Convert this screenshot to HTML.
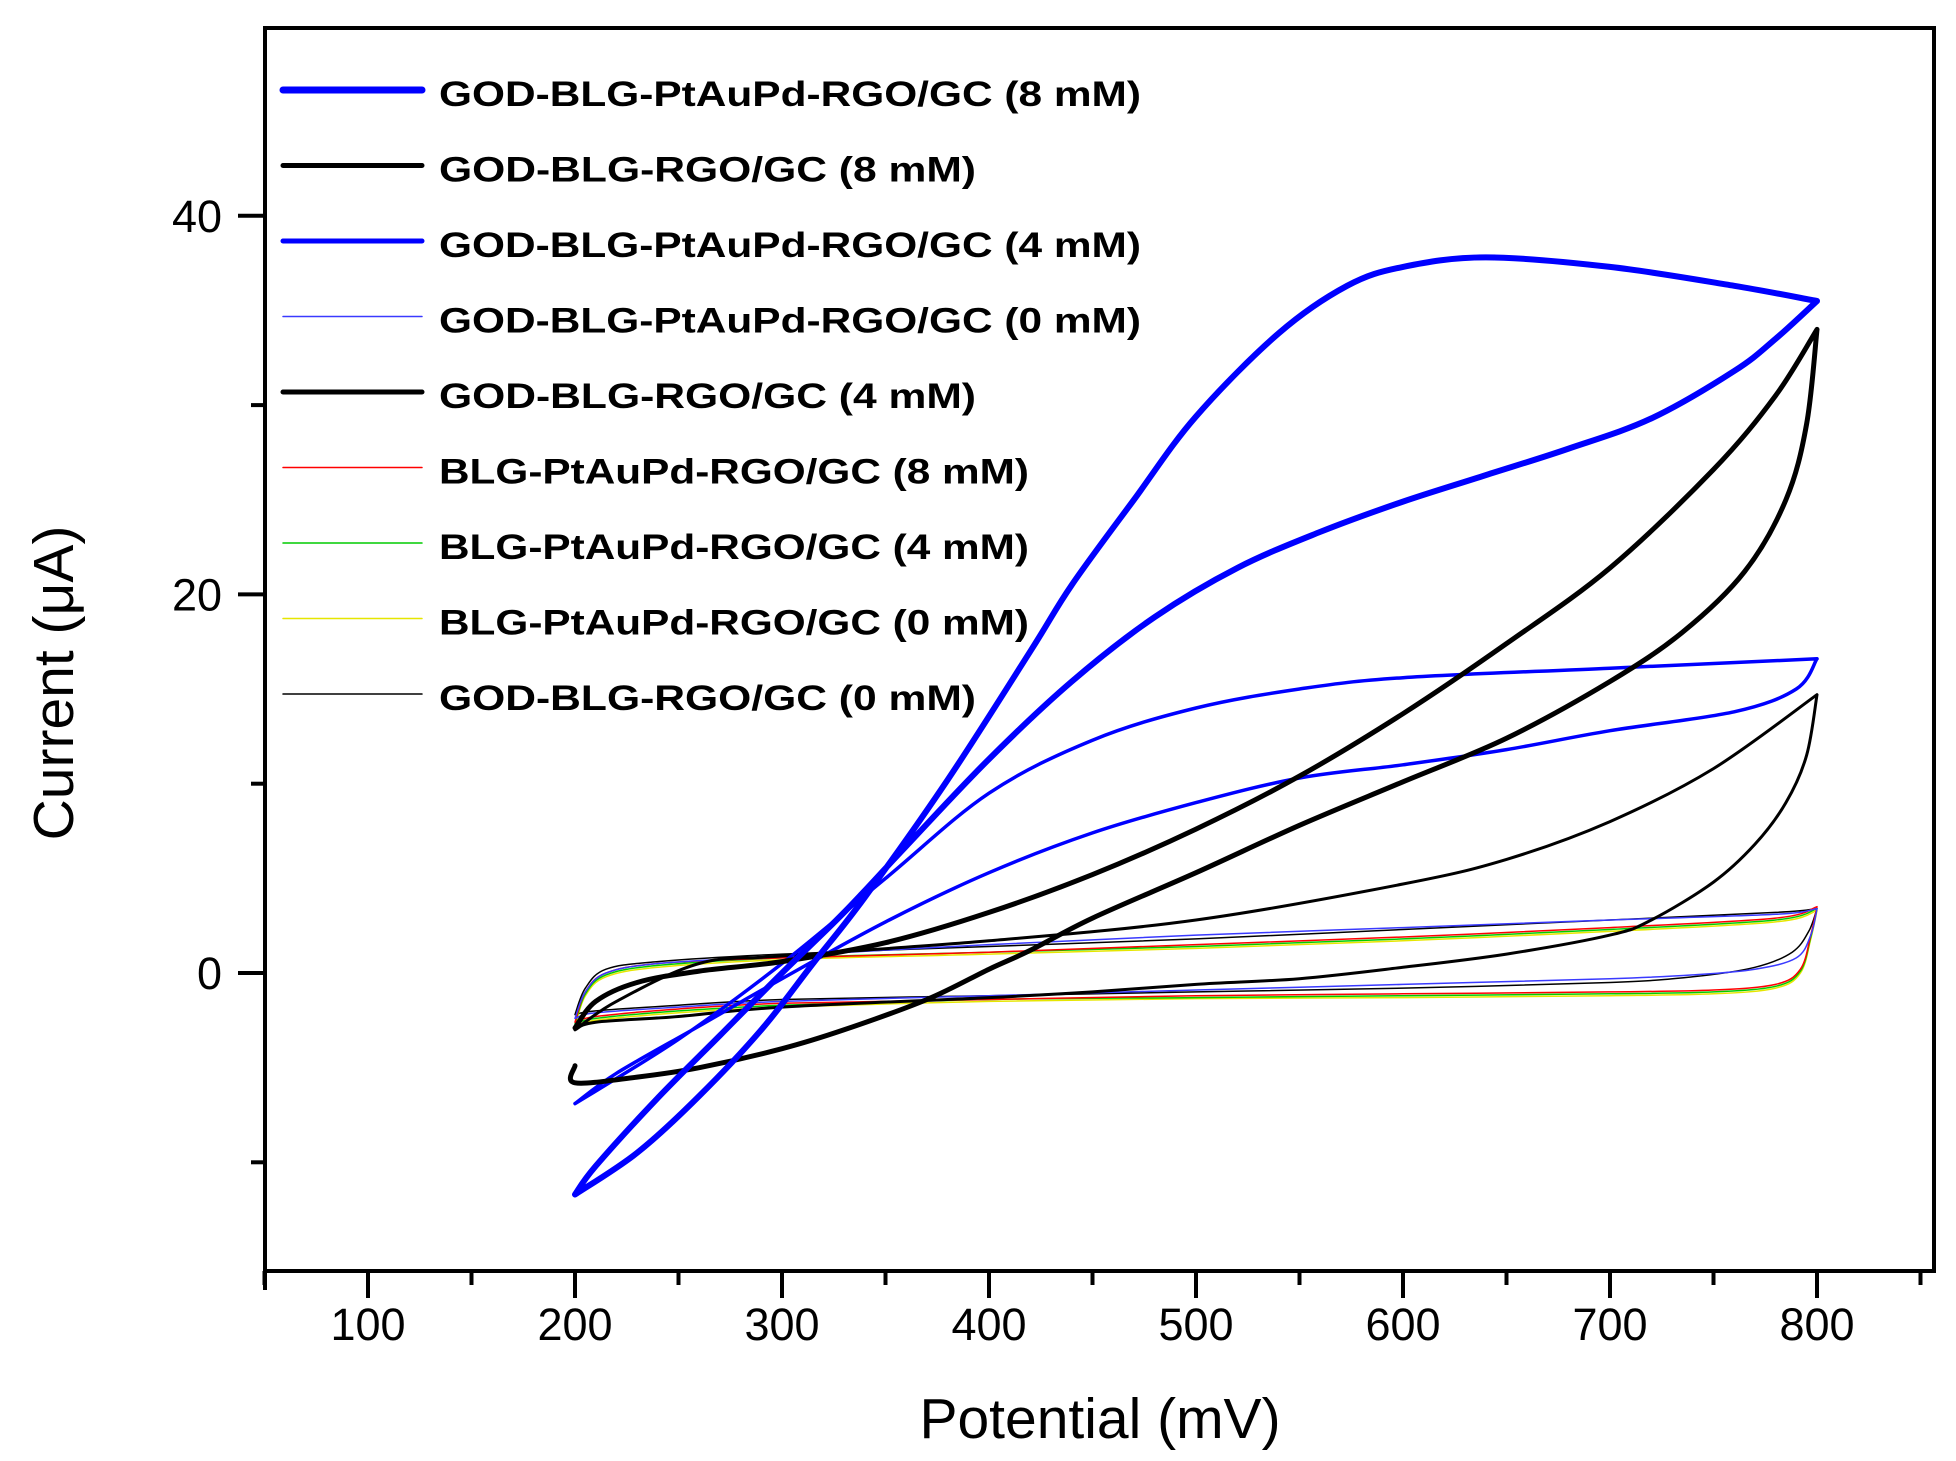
<!DOCTYPE html>
<html><head><meta charset="utf-8"><style>
html,body{margin:0;padding:0;background:#fff;}
svg{display:block;}
</style></head><body>
<svg id="chart" width="1956" height="1461" viewBox="0 0 1956 1461" xmlns="http://www.w3.org/2000/svg" font-family="Liberation Sans, Arial, sans-serif">
<rect width="1956" height="1461" fill="#fff"/>
<g id="plot"></g>
<g id="axes"></g>
<g id="legend"></g>
</svg>
<script>
// axis ticks
const xTicks = [100,200,300,400,500,600,700,800];
const xMinor = [50,150,250,350,450,550,650,750,850];
const yTicks = [0,20,40];
const yMinor = [-10,10,30];
// series: forward (upper) and reverse (lower) branches [mV, uA]
const pAu8_up = [[200,-11.7],[230,-9.5],[260,-6.5],[290,-3],[315,0.5],[340,4],[380,10.2],[420,17],[440,20.5],[470,25],[500,29.4],[540,33.8],[573,36.3],[600,37.3],[640,37.8],[700,37.3],[760,36.3],[800,35.5]];
const pAu8_dn = [[800,35.5],[780,33.5],[760,31.8],[720,29.3],[680,27.7],[640,26.3],[600,24.9],[560,23.3],[520,21.4],[480,18.8],[440,15.4],[400,11.3],[360,6.7],[330,3.2],[300,0],[270,-3.3],[240,-6.6],[210,-10.2],[200,-11.7]];
const rgo8_up = [[200,-2.9],[210,-1.5],[230,-0.5],[260,0.1],[300,0.6],[350,1.6],[400,3.2],[450,5.2],[500,7.6],[550,10.4],[600,13.7],[650,17.4],[700,21.4],[750,26.6],[780,30.5],[800,34]];
const rgo8_dn = [[800,34],[795,29],[785,25],[765,21.2],[735,18],[700,15.4],[650,12.4],[600,10.1],[550,7.8],[500,5.3],[450,2.9],[420,1.2],[400,0.2],[370,-1.4],[330,-3],[300,-4],[260,-5],[230,-5.5],[200,-5.8],[200,-4.9]];
const pAu4_up = [[200,-6.9],[250,-3.5],[300,0.5],[350,5],[400,9.5],[450,12.3],[500,14],[550,15],[600,15.6],[700,16.1],[800,16.6]];
const pAu4_dn = [[800,16.6],[790,15],[760,13.8],[700,12.8],[650,11.8],[600,11],[550,10.3],[500,9],[450,7.4],[400,5.3],[350,2.7],[300,-0.3],[260,-2.8],[220,-5.3],[200,-6.9]];
const rgo4_up = [[200,-3],[220,-1.5],[260,0.5],[300,0.9],[400,1.7],[500,2.8],[600,4.7],[650,6],[700,8],[750,10.8],[800,14.7]];
const rgo4_dn = [[800,14.7],[795,11.5],[785,9],[770,6.8],[750,4.8],[720,2.8],[700,2],[650,1],[600,0.3],[550,-0.3],[500,-0.6],[450,-1],[400,-1.3],[300,-1.8],[250,-2.3],[210,-2.6],[200,-3]];
const pAu0_up = [[200,-2.4],[205,-1],[215,0],[240,0.5],[300,0.9],[400,1.5],[500,2.0],[600,2.4],[700,2.8],[780,3.1],[800,3.4]];
const pAu0_dn = [[800,3.4],[797,2],[790,0.8],[770,0.2],[740,-0.1],[700,-0.3],[600,-0.6],[500,-0.9],[400,-1.2],[300,-1.5],[250,-1.8],[210,-2.1],[200,-2.4]];
const blg8_up = [[200,-2.6],[205,-1],[215,0],[240,0.5],[300,0.8],[400,1.1],[500,1.5],[600,1.9],[700,2.4],[780,2.9],[800,3.5]];
const blg8_dn = [[800,3.5],[797,2],[792,0.2],[780,-0.6],[750,-0.9],[700,-1.0],[600,-1.1],[500,-1.2],[400,-1.4],[300,-1.6],[250,-1.9],[210,-2.3],[200,-2.6]];
const blg4_up = [[200,-2.7],[205,-1.1],[215,-0.1],[240,0.4],[300,0.8],[400,1.1],[500,1.4],[600,1.8],[700,2.3],[780,2.8],[800,3.4]];
const blg4_dn = [[800,3.4],[797,1.9],[792,0.1],[780,-0.7],[750,-1.0],[700,-1.1],[600,-1.2],[500,-1.3],[400,-1.4],[300,-1.7],[250,-2.0],[210,-2.4],[200,-2.7]];
const blg0_up = [[200,-2.8],[205,-1.2],[215,-0.2],[240,0.3],[300,0.7],[400,1.0],[500,1.3],[600,1.7],[700,2.2],[780,2.7],[800,3.3]];
const blg0_dn = [[800,3.3],[797,1.8],[792,0],[780,-0.8],[750,-1.1],[700,-1.2],[600,-1.3],[500,-1.35],[400,-1.5],[300,-1.8],[250,-2.1],[210,-2.5],[200,-2.8]];
const rgo0_up = [[200,-2.2],[205,-0.8],[215,0.2],[240,0.6],[300,1.0],[400,1.4],[500,1.8],[600,2.3],[700,2.8],[780,3.2],[800,3.4]];
const rgo0_dn = [[800,3.4],[796,2.2],[788,1.1],[770,0.3],[740,-0.2],[700,-0.5],[600,-0.8],[500,-1.0],[400,-1.2],[300,-1.4],[250,-1.7],[210,-2.0],[200,-2.2]];
const seriesNames = ["GOD-BLG-PtAuPd-RGO/GC (8 mM)","GOD-BLG-RGO/GC (8 mM)","GOD-BLG-PtAuPd-RGO/GC (4 mM)","GOD-BLG-PtAuPd-RGO/GC (0 mM)","GOD-BLG-RGO/GC (4 mM)","BLG-PtAuPd-RGO/GC (8 mM)","BLG-PtAuPd-RGO/GC (4 mM)","BLG-PtAuPd-RGO/GC (0 mM)","GOD-BLG-RGO/GC (0 mM)"];

const X = v => 368 + (v - 100) * 2.07;
const Y = v => 973 - v * 18.93;
const NS = "http://www.w3.org/2000/svg";
function mk(tag, attrs, parent){const e=document.createElementNS(NS,tag);for(const k in attrs)e.setAttribute(k,attrs[k]);parent.appendChild(e);return e;}
function smoothPath(pts){
 const p=pts.map(q=>[X(q[0]),Y(q[1])]);
 let d='M'+p[0][0].toFixed(1)+','+p[0][1].toFixed(1);
 for(let i=0;i<p.length-1;i++){
  const p0=p[i-1]||p[i], p1=p[i], p2=p[i+1], p3=p[i+2]||p2;
  const c1=[p1[0]+(p2[0]-p0[0])/6, p1[1]+(p2[1]-p0[1])/6];
  const c2=[p2[0]-(p3[0]-p1[0])/6, p2[1]-(p3[1]-p1[1])/6];
  d+=' C'+c1[0].toFixed(1)+','+c1[1].toFixed(1)+' '+c2[0].toFixed(1)+','+c2[1].toFixed(1)+' '+p2[0].toFixed(1)+','+p2[1].toFixed(1);
 }
 return d;
}

const styles = [
 {c:"#0000ff",w:6,u:pAu8_up,r:pAu8_dn,n:"series-god-blg-ptaupd-8mm"},
 {c:"#000000",w:5,u:rgo8_up,r:rgo8_dn,n:"series-god-blg-rgo-8mm"},
 {c:"#0000ff",w:3.5,u:pAu4_up,r:pAu4_dn,n:"series-god-blg-ptaupd-4mm"},
 {c:"#3a3aff",w:1.5,u:pAu0_up,r:pAu0_dn,n:"series-god-blg-ptaupd-0mm"},
 {c:"#000000",w:3,u:rgo4_up,r:rgo4_dn,n:"series-god-blg-rgo-4mm"},
 {c:"#ff0000",w:1.5,u:blg8_up,r:blg8_dn,n:"series-blg-ptaupd-8mm"},
 {c:"#00cc00",w:1.5,u:blg4_up,r:blg4_dn,n:"series-blg-ptaupd-4mm"},
 {c:"#e6e600",w:1.5,u:blg0_up,r:blg0_dn,n:"series-blg-ptaupd-0mm"},
 {c:"#000000",w:1.5,u:rgo0_up,r:rgo0_dn,n:"series-god-blg-rgo-0mm"}
];
const plot = document.getElementById('plot');
[8,7,6,5,3,4,2,1,0].forEach(i=>{
 const s=styles[i];
 const p=mk('path',{d:smoothPath(s.u)+' '+smoothPath(s.r),fill:'none',stroke:s.c,'stroke-width':s.w,'stroke-linejoin':'round','stroke-linecap':'round'},plot);
 
 
});

const axes=document.getElementById('axes');
const frame=mk('rect',{x:265,y:28,width:1669,height:1243,fill:'none',stroke:'#000','stroke-width':4},axes);


xTicks.forEach(v=>{
 mk('line',{x1:X(v),x2:X(v),y1:1271,y2:1298,stroke:'#000','stroke-width':4},axes);
 const t=mk('text',{x:X(v),y:1340,'font-size':45,'text-anchor':'middle',fill:'#000'},axes);
 t.textContent=v;
 
 
});
xMinor.forEach(v=>{ mk('line',{x1:X(v),x2:X(v),y1:1271,y2:1285,stroke:'#000','stroke-width':4},axes); });
mk('line',{x1:265,x2:265,y1:1271,y2:1290,stroke:'#000','stroke-width':4},axes);
yTicks.forEach(v=>{
 mk('line',{x1:238,x2:265,y1:Y(v),y2:Y(v),stroke:'#000','stroke-width':4},axes);
 const t=mk('text',{x:222,y:Y(v)+16,'font-size':45,'text-anchor':'end',fill:'#000'},axes);
 t.textContent=v;
 
 
});
yMinor.forEach(v=>{ mk('line',{x1:251,x2:265,y1:Y(v),y2:Y(v),stroke:'#000','stroke-width':4},axes); });
const xt=mk('text',{x:1100,y:1438,'font-size':57,'text-anchor':'middle',fill:'#000'},axes);
xt.textContent='Potential (mV)';


const yt=mk('text',{x:0,y:0,'font-size':57,'text-anchor':'middle',fill:'#000',transform:'translate(73,683) rotate(-90)'},axes);
yt.textContent='Current (\u03bcA)';



const leg=document.getElementById('legend');
const legW=[702,537,702,702,537,590,590,590,537];
seriesNames.forEach((name,i)=>{
 const y=94+i*75.5;
 const s=styles[i];
 const lw = i===0?7:(i===1||i===2||i===4?5:1.5);
 const l=mk('line',{x1:283,x2:422,y1:y-4,y2:y-4,stroke:s.c,'stroke-width':lw,'stroke-linecap':'round'},leg);
 
 
 const t=mk('text',{x:439,y:y+12,'font-size':35,'font-weight':'bold',fill:'#000',textLength:legW[i],lengthAdjust:'spacingAndGlyphs'},leg);
 t.textContent=name;
 
 
});
</script>
</body></html>
